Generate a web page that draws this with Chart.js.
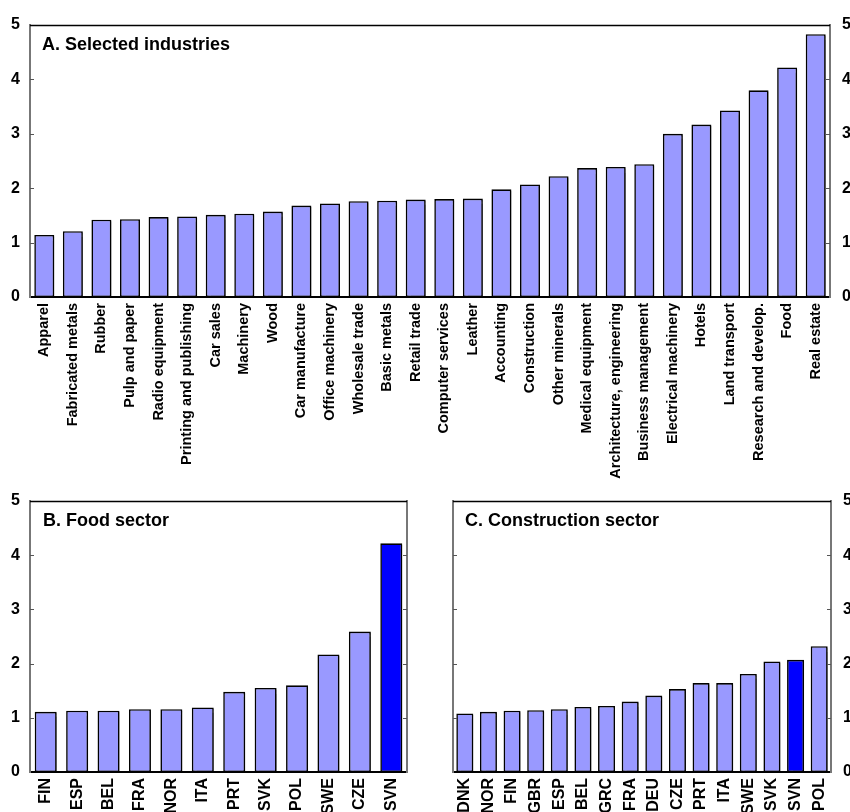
<!DOCTYPE html>
<html>
<head>
<meta charset="utf-8">
<script src="https://cdn.jsdelivr.net/npm/chart.js@4/dist/chart.umd.min.js"></script>
<style>
  html, body { margin: 0; padding: 0; background: #fff; }
  body { width: 850px; height: 812px; position: relative; overflow: hidden; }
  canvas { position: absolute; }
</style>
</head>
<body>
<canvas id="panelA" width="850" height="490" style="left:0;top:0;width:850px;height:490px"></canvas>
<canvas id="panelB" width="430" height="342" style="left:0;top:470px;width:430px;height:342px"></canvas>
<canvas id="panelC" width="420" height="342" style="left:430px;top:470px;width:420px;height:342px"></canvas>
<script>
// Panel A: selected industries
const industries = [
  'Apparel', 'Fabricated metals', 'Rubber', 'Pulp and paper', 'Radio equipment',
  'Printing and publishing', 'Car sales', 'Machinery', 'Wood', 'Car manufacture',
  'Office machinery', 'Wholesale trade', 'Basic metals', 'Retail trade',
  'Computer services', 'Leather', 'Accounting', 'Construction', 'Other minerals',
  'Medical equipment', 'Architecture, engineering', 'Business management',
  'Electrical machinery', 'Hotels', 'Land transport', 'Research and develop.',
  'Food', 'Real estate'
];
const industryValues = [
  1.14, 1.21, 1.42, 1.43, 1.47, 1.48, 1.51, 1.53, 1.57, 1.68,
  1.72, 1.76, 1.77, 1.79, 1.80, 1.81, 1.98, 2.07, 2.22, 2.37,
  2.39, 2.44, 3.00, 3.17, 3.43, 3.80, 4.22, 4.83
];

// Panel B: food sector by country
const foodCountries = ['FIN', 'ESP', 'BEL', 'FRA', 'NOR', 'ITA', 'PRT', 'SVK', 'POL', 'SWE', 'CZE', 'SVN'];
const foodValues = [1.11, 1.13, 1.13, 1.16, 1.16, 1.19, 1.48, 1.55, 1.60, 2.17, 2.59, 4.22];

// Panel C: construction sector by country
const constructionCountries = ['DNK', 'NOR', 'FIN', 'GBR', 'ESP', 'BEL', 'GRC', 'FRA', 'DEU', 'CZE', 'PRT', 'ITA', 'SWE', 'SVK', 'SVN', 'POL'];
const constructionValues = [1.08, 1.11, 1.13, 1.14, 1.16, 1.20, 1.22, 1.30, 1.41, 1.53, 1.64, 1.64, 1.81, 2.04, 2.07, 2.32];

const yTickLabels = ['0', '1', '2', '3', '4', '5'];
const highlighted = 'SVN';

const FONT = '"Liberation Sans", Arial, Helvetica, sans-serif';
const BAR_COLOR = '#9999FF';
const HIGHLIGHT_COLOR = '#0000FF';

// Frame, inward tick marks and the panel heading
const framePlugin = {
  id: 'frame',
  afterDatasetsDraw(chart, args, opts) {
    const { ctx, chartArea: a } = chart;
    ctx.save();
    // top edge
    ctx.strokeStyle = '#000';
    ctx.lineWidth = 1.3;
    ctx.beginPath();
    ctx.moveTo(a.left, a.top + 0.5);
    ctx.lineTo(a.right, a.top + 0.5);
    ctx.stroke();
    // inward ticks on both vertical axes
    const ys = chart.scales.y;
    ctx.strokeStyle = '#555';
    ctx.lineWidth = 1;
    for (let v = 1; v <= 4; v++) {
      const py = Math.round(ys.getPixelForValue(v)) + 0.5;
      ctx.beginPath();
      ctx.moveTo(a.left, py); ctx.lineTo(a.left + 4, py);
      ctx.moveTo(a.right - 4, py); ctx.lineTo(a.right, py);
      ctx.stroke();
    }
    // heading
    ctx.fillStyle = '#000';
    ctx.font = 'bold 18px ' + FONT;
    ctx.textBaseline = 'alphabetic';
    ctx.textAlign = 'left';
    ctx.fillText(opts.text, a.left + opts.dx, a.top + opts.dy);
    ctx.restore();
  }
};

// Soft drop shadow under the bars
const shadowPlugin = {
  id: 'barShadow',
  beforeDatasetsDraw(chart) {
    const ctx = chart.ctx;
    ctx.save();
    ctx.shadowColor = 'rgba(0,0,0,0.35)';
    ctx.shadowOffsetX = 1.5;
    ctx.shadowOffsetY = 1.5;
    ctx.shadowBlur = 1;
  },
  afterDatasetsDraw(chart) {
    chart.ctx.restore();
  }
};

function makePanel(id, labels, values, cfg) {
  const colors = labels.map(l => l === highlighted ? HIGHLIGHT_COLOR : BAR_COLOR);
  const yAxis = (position, showLabels, width) => ({
    type: 'linear',
    position: position,
    min: 0,
    max: 5,
    grid: { display: false, drawTicks: false },
    border: { display: true, color: '#777', width: 2 },
    ticks: {
      display: showLabels,
      stepSize: 1,
      padding: position === 'left' ? 10 : 12,
      color: '#000',
      font: { family: FONT, size: 16, weight: 'bold' },
      callback: (v) => yTickLabels[v]
    },
    afterFit(scale) { scale.width = width; }
  });
  return new Chart(document.getElementById(id), {
    type: 'bar',
    data: {
      labels: labels,
      datasets: [{
        data: values,
        backgroundColor: colors,
        borderColor: '#000',
        borderWidth: 1.6,
        borderSkipped: false,
        categoryPercentage: 1.0,
        barPercentage: cfg.barPct,
        yAxisID: 'y'
      }]
    },
    options: {
      responsive: false,
      animation: false,
      devicePixelRatio: 1,
      layout: { padding: { top: cfg.top, left: 0, right: 0, bottom: 0 } },
      plugins: {
        legend: { display: false },
        tooltip: { enabled: false },
        frame: { text: cfg.title, dx: cfg.titleDx, dy: 25 }
      },
      scales: {
        x: {
          grid: { display: false, drawTicks: false },
          border: { display: true, color: '#000', width: 2 },
          ticks: {
            autoSkip: false,
            maxRotation: 90,
            minRotation: 90,
            padding: 6,
            color: '#000',
            font: { family: FONT, size: cfg.labelSize, weight: 'bold' }
          },
          afterFit(scale) { scale.height = cfg.xHeight; }
        },
        y: yAxis('left', cfg.leftLabels, cfg.leftWidth),
        y2: yAxis('right', cfg.rightLabels, cfg.rightWidth)
      }
    },
    plugins: [shadowPlugin, framePlugin]
  });
}

makePanel('panelA', industries, industryValues, {
  title: 'A. Selected industries', titleDx: 12, top: 25, xHeight: 193,
  leftWidth: 30, rightWidth: 20, leftLabels: true, rightLabels: true,
  barPct: 0.7, labelSize: 14.5
});
makePanel('panelB', foodCountries, foodValues, {
  title: 'B. Food sector', titleDx: 13, top: 31, xHeight: 40,
  leftWidth: 30, rightWidth: 23, leftLabels: true, rightLabels: false,
  barPct: 0.7, labelSize: 16
});
makePanel('panelC', constructionCountries, constructionValues, {
  title: 'C. Construction sector', titleDx: 12, top: 31, xHeight: 40,
  leftWidth: 23, rightWidth: 19, leftLabels: false, rightLabels: true,
  barPct: 0.72, labelSize: 16
});
</script>
</body>
</html>
